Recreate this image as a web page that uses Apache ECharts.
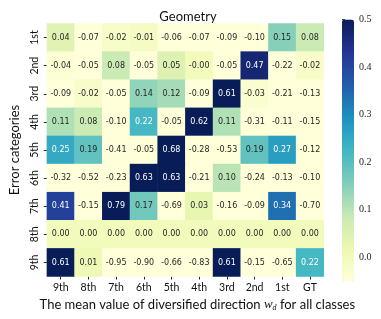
<!DOCTYPE html>
<html><head><meta charset="utf-8">
<script src="https://cdn.jsdelivr.net/npm/echarts@6/dist/echarts.min.js"></script>
<style>html,body{margin:0;padding:0;background:#fff}#c{width:381px;height:319px}</style>
</head><body><div id="c"></div>
<script>
const xLabels = ['9th','8th','7th','6th','5th','4th','3rd','2nd','1st','GT'];
const yLabels = ['1st','2nd','3rd','4th','5th','6th','7th','8th','9th'];
const row1st = [0.04, -0.07, -0.02, -0.01, -0.06, -0.07, -0.09, -0.10, 0.15, 0.08];
const row2nd = [-0.04, -0.05, 0.08, -0.05, 0.05, -0.00, -0.05, 0.47, -0.22, -0.02];
const row3rd = [-0.09, -0.02, -0.05, 0.14, 0.12, -0.09, 0.61, -0.03, -0.21, -0.13];
const row4th = [0.11, 0.08, -0.10, 0.22, -0.05, 0.62, 0.11, -0.31, -0.11, -0.15];
const row5th = [0.25, 0.19, -0.41, -0.05, 0.68, -0.28, -0.53, 0.19, 0.27, -0.12];
const row6th = [-0.32, -0.52, -0.23, 0.63, 0.63, -0.21, 0.10, -0.24, -0.13, -0.10];
const row7th = [0.41, -0.15, 0.79, 0.17, -0.69, 0.03, -0.16, -0.09, 0.34, -0.70];
const row8th = [0.00, 0.00, 0.00, 0.00, 0.00, 0.00, 0.00, 0.00, 0.00, 0.00];
const row9th = [0.61, 0.01, -0.95, -0.90, -0.66, -0.83, 0.61, -0.15, -0.65, 0.22];
const rows = [row1st,row2nd,row3rd,row4th,row5th,row6th,row7th,row8th,row9th];
const cbTicks = [0.0, 0.1, 0.2, 0.3, 0.4, 0.5];
const vmin = -0.05, vmax = 0.5;
const YlGnBu = ['#ffffd9','#edf8b1','#c7e9b4','#7fcdbb','#41b6c4','#1d91c0','#225ea8','#253494','#081d58'];

const data = [];
rows.forEach((r, yi) => r.forEach((v, xi) => {
  data.push([xi, yi, v, Math.min(vmax, Math.max(vmin, v))]);
}));

const fmt = v => (Object.is(v, -0) ? '-0.00' : v.toFixed(2));
const sans = 'Lato';
const chart = echarts.init(document.getElementById('c'), null, {renderer: 'canvas'});
chart.setOption({
  animation: false,
  title: {
    text: 'Geometry', left: 183, top: 5, textAlign: 'center',
    textStyle: {fontFamily: sans, fontSize: 13, fontWeight: 'normal', color: '#111'}
  },
  grid: [
    {left: 41.8, top: 23.5, width: 282, height: 253},
    {left: 342, top: 19.5, width: 12, height: 261.5, show: false}
  ],
  xAxis: [
    {type: 'category', data: xLabels, gridIndex: 0, position: 'bottom',
     axisLine: {show: false}, axisTick: {show: true, alignWithLabel: true, length: 3, lineStyle: {color: '#222'}},
     axisLabel: {fontFamily: sans, fontSize: 10.5, color: '#111', margin: 6},
     name: 'The mean value of diversified direction {it|w}{sub|d} for all classes',
     nameLocation: 'middle', nameGap: 19,
     nameTextStyle: {fontFamily: sans, fontSize: 13, color: '#111', padding: [0, 0, 0, 24],
       rich: {it: {fontFamily: 'Liberation Serif', fontStyle: 'italic', fontSize: 13, color: '#111'},
              sub: {fontFamily: 'Liberation Serif', fontStyle: 'italic', fontSize: 8, color: '#111', verticalAlign: 'bottom', padding: [6,0,0,0]}}},
     splitLine: {show: false}},
    {type: 'value', gridIndex: 1, show: false, min: 0, max: 1}
  ],
  yAxis: [
    {type: 'category', data: yLabels, inverse: true, gridIndex: 0,
     axisLine: {show: false}, axisTick: {show: true, alignWithLabel: true, length: 3, lineStyle: {color: '#222'}},
     axisLabel: {fontFamily: sans, fontSize: 10.5, color: '#111', rotate: 90, margin: 7},
     name: 'Error categories', nameLocation: 'middle', nameGap: 24,
     nameTextStyle: {fontFamily: sans, fontSize: 13, color: '#111'},
     splitLine: {show: false}},
    {type: 'value', gridIndex: 1, position: 'right', min: vmin, max: vmax,
     axisLine: {show: false},
     axisTick: {show: true, length: 3, customValues: cbTicks, lineStyle: {color: '#333'}},
     axisLabel: {show: true, customValues: cbTicks, formatter: v => v.toFixed(1),
       fontFamily: 'Liberation Serif', fontSize: 10, color: '#222', margin: 5},
     splitLine: {show: false}}
  ],
  visualMap: {
    type: 'continuous', min: vmin, max: vmax, dimension: 3, seriesIndex: 0,
    calculable: false, show: true, orient: 'vertical',
    left: 342, top: 19.5, itemWidth: 12, itemHeight: 261.5, padding: 0,
    text: null, hoverLink: false,
    inRange: {color: YlGnBu}
  },
  series: [{
    type: 'heatmap', xAxisIndex: 0, yAxisIndex: 0,
    data: data.map(d => ({value: d, label: {color: d[2] >= 0.2 ? '#ffffff' : '#262626'}})),
    itemStyle: {borderWidth: 0},
    label: {show: true, fontFamily: 'DejaVu Sans', fontSize: 8,
      formatter: p => fmt(p.value[2]), color: '#262626'},
    emphasis: {disabled: true}
  }]
});
</script></body></html>
